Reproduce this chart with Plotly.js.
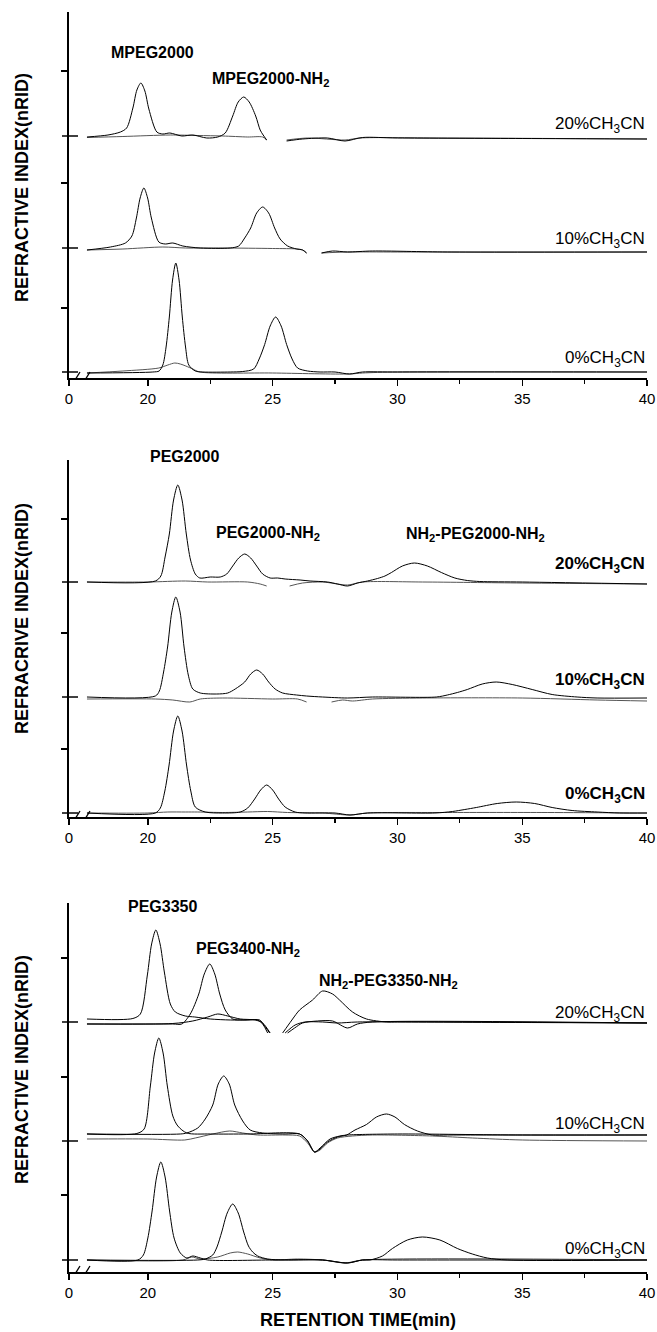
<!DOCTYPE html>
<html>
<head>
<meta charset="utf-8">
<script src="https://cdn.plot.ly/plotly-3.0.1.min.js"></script>
<style>html,body{margin:0;padding:0;background:#fff}#chart{width:657px;height:1332px}</style>
</head>
<body>
<div id="chart"></div>
<script>
// ---------------- DATA (retention time in min, signal in arbitrary nRID units) ----------------
// x axis: broken axis, "0" label sits at the left edge
const X_ZERO = 16.84;
const X_TICKS = [X_ZERO, 20, 25, 30, 35, 40];
const X_TICK_TEXT = ['0', '20', '25', '30', '35', '40'];
const X_MINOR = [22.5, 27.5, 32.5, 37.5];

// trace offsets (20%, 10%, 0% CH3CN)
const P1_OFF = [242, 130, 6];
const P2_OFF = [235, 120, 4];
const P3_OFF = [250, 131, 12];
const P1_YTICKS = [70, 195, 307];
const P2_YTICKS = [68, 184, 298];
const P3_YTICKS = [77, 195, 314];

// ---- Panel 1: MPEG2000 ----
const p1_20_a_t = [17.56,18.4,18.9,19.15,19.4,19.56,19.72,19.88,20.04,20.36,20.6,20.88,21.36,21.8,22.36,22.8,23.1,23.4,23.62,23.84,24.06,24.32,24.5,24.62,24.76,25.1,25.56,26.2,27.2,27.9,28.6,30,35,40];
const p1_20_a_v = [-1,1,4,8,28,46,53,45,27,4,2,3,0,1,-2,-1,3,20,34,39,34,20,6,1,-4,null,-5,-3,-2,-5,-1.5,-2,-2.5,-3];
const p1_20_b_t = [17.56,19,20.9,22,23,24,24.6,24.76,25.1,25.56,26.4,27.9,28.5,32,40];
const p1_20_b_v = [-1.5,-0.5,1,0.5,0,-1,-1,-4,null,-4,-2,-4,-2,-2,-3];
const p1_10_a_t = [17.56,18.5,19.1,19.36,19.54,19.69,19.84,19.99,20.14,20.44,20.7,21.0,21.4,22.1,23.3,23.64,23.88,24.12,24.36,24.6,24.84,25.08,25.3,25.6,25.96,26.2,26.36,26.6,26.96,27.4,28.0,29,32,40];
const p1_10_a_v = [-2,1,5,12,30,50,60,50,30,6,4,5,2,0,0,2,10,20,35,41,35,20,9,2,-1,-2,-5,null,-5,-3,-4,-3,-4,-4];
const p1_10_b_t = [17.56,19.0,20.6,21.5,23,25,26.0,26.2,26.36,26.6,26.96,28,30,40];
const p1_10_b_v = [-2,-1,1,0,0,-0.5,-1,-2,-5,null,-5,-4,-4,-4];
const p1_0_a_t = [17.56,20.2,20.45,20.6,20.73,20.86,20.99,21.12,21.25,21.38,21.51,21.64,21.9,22.2,23.3,23.8,24.24,24.46,24.68,24.9,25.12,25.34,25.56,25.78,26.0,26.4,26.9,27.5,28.08,28.6,30,40];
const p1_0_a_v = [-1,0,1,7,25,55,92,109,92,55,25,7,1,0,0,0.5,3,13,27.5,46,55,46,27.5,13,4,1,0,0,-2,0,0,0];
const p1_0_b_t = [17.56,19.0,20.44,20.8,21.08,21.3,21.52,21.8,22.08,25,28.08,28.6,30,40];
const p1_0_b_v = [-1,1,4,7,9,8,6,3,0,-1,-2,-1,0,0];

// ---- Panel 2: PEG2000 ----
const p2_20_a_t = [17.56,20.3,20.52,20.69,20.86,21.03,21.2,21.37,21.54,21.71,21.9,22.08,22.5,22.9,23.16,23.4,23.64,23.88,24.12,24.36,24.6,24.9,25.2,25.5,26.1,26.5,27.2,27.6,28.0,28.4,28.8,29.2,29.5,29.76,30.2,30.68,31.2,31.76,32.3,32.8,33.3,35,40];
const p2_20_a_v = [0,1,6,25,48,82,97,82,48,22,8,4,5,5,8,16,24,28,24,16,8,4,4,3,2,1,0,-2,-4,-1,1,3.5,6,9.5,16,19,16,9.5,4,1.5,0.5,0,-2];
const p2_20_b_t = [17.56,20,21.5,22.4,24.0,24.5,24.76,25.2,25.68,26.2,27,28.0,28.6,31,35,40];
const p2_20_b_v = [0,0,1,0,0,-2,-4,null,-4,-1,0,-3,0,0,-1,-2];
const p2_10_a_t = [17.56,20.3,20.46,20.63,20.79,20.96,21.12,21.29,21.45,21.62,21.8,22.1,22.76,23.2,23.5,23.88,24.12,24.36,24.6,24.84,25.1,25.4,25.96,26.36,27.0,28.0,29,31.56,32.0,32.4,32.8,33.4,33.96,34.6,35.4,36.2,37.2,38,40];
const p2_10_a_v = [0,1,6,25,50,85,100,85,50,22,8,4,3,4,8,15,23,27,23,15,8,4,2,1,0,-1,0,0,2,4.5,7.5,13,15,12.5,7.5,2.5,0,-1,-1];
const p2_10_b_t = [17.56,20.3,21.0,21.68,22.1,23,25,26.0,26.36,26.8,27.36,27.8,28.2,29,31,35,38,40];
const p2_10_b_v = [-2,-2,-3,-5,-2,-1,-2,-2,-5,null,-5,-3,-4,-2,-1,-1,-3,-4];
const p2_0_a_t = [17.56,20.3,20.5,20.68,20.85,21.03,21.2,21.37,21.55,21.72,21.9,22.3,23.0,23.7,24.0,24.28,24.52,24.76,25.0,25.24,25.5,25.9,26.3,27.5,28.1,28.8,31.5,32.2,32.7,33.16,34.0,34.76,35.5,36.2,37.0,38.0,38.9,40];
const p2_0_a_v = [0,0,5,22,48,82,97,82,48,22,6,1,0,1,5,14,23,28,23,14,6,1,0,0,-2,0,0,1.5,3.5,5.5,9.5,11,9.5,5.5,2.5,1,0,0];
const p2_0_b_t = [17.56,20,20.8,21.5,22,23,24,24.8,25.6,27,28.1,28.8,32,36,40];
const p2_0_b_v = [0,0,1,1,1,0.5,1,1.5,0.5,0,-2,0,0.5,0.5,0];

// ---- Panel 3: PEG3350 ----
const p3_20_a_t = [17.56,19.4,19.7,19.98,20.15,20.32,20.49,20.66,20.9,21.1,21.5,21.88,22.5,23.3,24.0,24.48,24.65,24.88,25.2,25.6,25.88,26.2,26.8,27.4,28.0,28.4,29,40];
const p3_20_a_v = [3,3.5,8,47,78,92,78,50,18,10,6,5,3,2,2,2,-3,-11,null,-11,-6,-1,1,1,-6,-2,0,-1];
const p3_20_b_t = [17.56,21.0,21.36,21.7,22.04,22.26,22.48,22.68,22.88,23.1,23.4,23.8,24.4,24.6,24.8,25.1,25.5,25.9,26.3,27,27.6,28.4,40];
const p3_20_b_v = [-2,-2,-2,8,28,48,58,48,28,12,3,2,2,-2,-11,null,-11,-3,0,0,-1,0,-1];
const p3_20_c_t = [17.56,21,21.8,22.4,22.8,23.2,23.7,24.3,24.6,24.9,25.1,25.4,25.6,25.8,26.08,26.6,27.0,27.4,27.68,28.2,28.76,29.56,30,35,40];
const p3_20_c_v = [-2,-1.5,1,5,8,6,3,2,-1,-11,null,-11,-4,3,12,22,31,28,22,10,3,0,0,-0.5,-1];
const p3_10_a_t = [17.56,19.56,19.85,20.1,20.27,20.44,20.61,20.78,21.0,21.2,21.56,22.5,24,26.08,26.4,26.68,26.9,27.3,27.7,28,30,35,40];
const p3_10_a_v = [7,7.5,12,55,88,103,88,55,25,15,8,7,7,7,0,-11,-7,2,5,6,7,6,6];
const p3_10_b_t = [17.56,21.3,21.56,22.0,22.3,22.6,22.82,23.04,23.26,23.48,23.8,24.1,24.6,25.5,26.08,26.4,26.68,26.9,27.2,27.6,27.96,28.3,28.76,29.16,29.56,29.9,30.28,30.8,31.4,32,35,40];
const p3_10_b_v = [7,7,8,13,22,36,57,65,57,36,20,11,8,7,7,0,-11,-8,-1,4,6,11,16.5,24,27,24,16.5,10,6,6,6,6];
const p3_10_c_t = [17.56,20,21.48,21.9,22.6,23.28,23.8,24.4,25.5,26.08,26.4,26.68,26.9,27.2,27.6,28.2,29,31.4,33,35,40];
const p3_10_c_v = [2,2,1,3,7,10,8,6,6,5,-2,-11,-9,-2,3,5,6,5,3,1,0];
const p3_0_a_t = [17.56,19.6,19.82,20.0,20.17,20.35,20.52,20.69,20.87,21.05,21.3,21.56,21.8,22.1,22.4,25,27,28.0,28.6,30,40];
const p3_0_a_v = [0,0,5,22,49,83,98,83,49,22,7,2,4,2,0,0,0,-3,0,0,0];
const p3_0_b_t = [17.56,22.0,22.3,22.6,22.77,22.96,23.18,23.4,23.62,23.84,24.03,24.2,24.4,24.8,25.5,27,28.0,28.6,28.9,29.4,29.8,30.4,31.0,31.7,32.4,33.0,33.6,34.4,40];
const p3_0_b_v = [0,0,1,5,13,28,47,56,47,28,14,8,4,1,0,0,-3,0,0,4,11.5,20,23,20,11.5,6,2,0,0];
const p3_0_c_t = [17.56,21.4,21.76,22.1,22.8,23.3,23.6,24.0,24.5,25,26,27,27.9,28.6,40];
const p3_0_c_v = [0,0,3,1,3,7,8,6,2,0,1,0,-3,0,0];

// ---------------- BUILD ----------------
const FONT = 'Liberation Sans, Arial, Helvetica, sans-serif';
const PLOT_W = 578;
const PLOT_H = 1260;

function tr(t, v, off, n, color) {
  return {
    type: 'scatter', mode: 'lines',
    x: t, y: v.map(d => d === null ? null : d + off),
    xaxis: n === 1 ? 'x' : 'x' + n, yaxis: n === 1 ? 'y' : 'y' + n,
    connectgaps: false, hoverinfo: 'skip',
    line: {color: color, width: 1, shape: 'spline', smoothing: 0.8}
  };
}
const K = '#000', G = '#555';
const data = [
  tr(p1_20_b_t, p1_20_b_v, P1_OFF[0], 1, G), tr(p1_20_a_t, p1_20_a_v, P1_OFF[0], 1, K),
  tr(p1_10_b_t, p1_10_b_v, P1_OFF[1], 1, G), tr(p1_10_a_t, p1_10_a_v, P1_OFF[1], 1, K),
  tr(p1_0_b_t, p1_0_b_v, P1_OFF[2], 1, G), tr(p1_0_a_t, p1_0_a_v, P1_OFF[2], 1, K),
  tr(p2_20_b_t, p2_20_b_v, P2_OFF[0], 2, G), tr(p2_20_a_t, p2_20_a_v, P2_OFF[0], 2, K),
  tr(p2_10_b_t, p2_10_b_v, P2_OFF[1], 2, G), tr(p2_10_a_t, p2_10_a_v, P2_OFF[1], 2, K),
  tr(p2_0_b_t, p2_0_b_v, P2_OFF[2], 2, G), tr(p2_0_a_t, p2_0_a_v, P2_OFF[2], 2, K),
  tr(p3_20_c_t, p3_20_c_v, P3_OFF[0], 3, K), tr(p3_20_b_t, p3_20_b_v, P3_OFF[0], 3, K), tr(p3_20_a_t, p3_20_a_v, P3_OFF[0], 3, K),
  tr(p3_10_c_t, p3_10_c_v, P3_OFF[1], 3, G), tr(p3_10_b_t, p3_10_b_v, P3_OFF[1], 3, K), tr(p3_10_a_t, p3_10_a_v, P3_OFF[1], 3, K),
  tr(p3_0_c_t, p3_0_c_v, P3_OFF[2], 3, G), tr(p3_0_b_t, p3_0_b_v, P3_OFF[2], 3, K), tr(p3_0_a_t, p3_0_a_v, P3_OFF[2], 3, K)
];

function axX(anchor) {
  return {
    anchor: anchor, domain: [0, 1], range: [X_ZERO, 40],
    tickmode: 'array', tickvals: X_TICKS, ticktext: X_TICK_TEXT,
    ticks: 'outside', ticklen: 6, tickwidth: 1.3, tickcolor: '#000',
    showline: true, linecolor: '#000', linewidth: 1.6,
    showgrid: false, zeroline: false, fixedrange: true,
    tickfont: {family: FONT, size: 15, color: '#000'},
    minor: {tickmode: 'array', tickvals: X_MINOR, ticks: 'outside', ticklen: 4, tickwidth: 1.2, tickcolor: '#000', showgrid: false}
  };
}
function axY(anchor, domain, range, ticks) {
  return {
    anchor: anchor, domain: domain, range: range,
    tickmode: 'array', tickvals: ticks, showticklabels: false,
    ticks: 'outside', ticklen: 6, tickwidth: 1.3, tickcolor: '#000',
    showline: true, linecolor: '#000', linewidth: 1.6,
    showgrid: false, zeroline: false, fixedrange: true
  };
}

const shapes = [];
const panels = [
  {ya: 'y', xa: 'x', off: P1_OFF},
  {ya: 'y2', xa: 'x2', off: P2_OFF},
  {ya: 'y3', xa: 'x3', off: P3_OFF}
];
panels.forEach(p => {
  // baseline markers crossing the y axis
  p.off.forEach(o => shapes.push({type: 'line', xref: 'paper', yref: p.ya, x0: -7 / PLOT_W, x1: 9 / PLOT_W, y0: o, y1: o, line: {color: '#000', width: 1.5}, layer: 'above'}));
  // axis break
  shapes.push({type: 'rect', xref: p.xa, yref: p.ya, ysizemode: 'pixel', yanchor: 0, x0: 17.2, x1: 17.44, y0: -3, y1: 3, fillcolor: '#fff', line: {width: 0}, layer: 'above'});
  shapes.push({type: 'line', xref: p.xa, yref: p.ya, ysizemode: 'pixel', yanchor: 0, x0: 16.96, x1: 17.28, y0: -7, y1: 6, line: {color: '#000', width: 1.3}, layer: 'above'});
  shapes.push({type: 'line', xref: p.xa, yref: p.ya, ysizemode: 'pixel', yanchor: 0, x0: 17.36, x1: 17.68, y0: -7, y1: 6, line: {color: '#000', width: 1.3}, layer: 'above'});
});

function ann(xa, ya, x, y, text, size, opts) {
  return Object.assign({xref: xa, yref: ya, x: x, y: y, text: text, showarrow: false,
    font: {family: FONT, size: size, color: '#000'}, xanchor: 'center', yanchor: 'middle'}, opts || {});
}
const annotations = [
  // peak labels
  ann('x', 'y', 20.2, 326, '<b>MPEG2000</b>', 16),
  ann('x', 'y', 24.92, 299, '<b>MPEG2000-NH<sub>2</sub></b>', 16),
  ann('x2', 'paper', 21.48, (1272 - 457) / PLOT_H, '<b>PEG2000</b>', 16),
  ann('x2', 'y2', 24.8, 284, '<b>PEG2000-NH<sub>2</sub></b>', 16),
  ann('x2', 'y2', 33.12, 283, '<b>NH<sub>2</sub>-PEG2000-NH<sub>2</sub></b>', 16),
  ann('x3', 'y3', 20.6, 365, '<b>PEG3350</b>', 16),
  ann('x3', 'y3', 24.0, 322, '<b>PEG3400-NH<sub>2</sub></b>', 16),
  ann('x3', 'y3', 29.64, 290, '<b>NH<sub>2</sub>-PEG3350-NH<sub>2</sub></b>', 16),
  // condition labels
  ann('x', 'y', 40, 253, '20%CH<sub>3</sub>CN', 17, {xanchor: 'right'}),
  ann('x', 'y', 40, 138, '10%CH<sub>3</sub>CN', 17, {xanchor: 'right'}),
  ann('x', 'y', 40, 19, '0%CH<sub>3</sub>CN', 17, {xanchor: 'right'}),
  ann('x2', 'y2', 40, 252, '<b>20%CH<sub>3</sub>CN</b>', 17, {xanchor: 'right'}),
  ann('x2', 'y2', 40, 136, '<b>10%CH<sub>3</sub>CN</b>', 17, {xanchor: 'right'}),
  ann('x2', 'y2', 40, 22, '<b>0%CH<sub>3</sub>CN</b>', 17, {xanchor: 'right'}),
  ann('x3', 'y3', 40, 258, '20%CH<sub>3</sub>CN', 17, {xanchor: 'right'}),
  ann('x3', 'y3', 40, 147, '10%CH<sub>3</sub>CN', 17, {xanchor: 'right'}),
  ann('x3', 'y3', 40, 22, '0%CH<sub>3</sub>CN', 17, {xanchor: 'right'}),
  // axis titles
  ann('paper', 'y', -47 / PLOT_W, 190, '<b>REFRACTIVE INDEX(nRID)</b>', 18, {textangle: -90}),
  ann('paper', 'y2', -47 / PLOT_W, 198, '<b>REFRACRIVE INDEX(nRID)</b>', 18, {textangle: -90}),
  ann('paper', 'y3', -47 / PLOT_W, 202, '<b>REFRACTIVE INDEX(nRID)</b>', 18, {textangle: -90}),
  ann('paper', 'paper', 0.5, -48 / PLOT_H, '<b>RETENTION TIME(min)</b>', 18)
];

const layout = {
  width: 657, height: 1332,
  margin: {l: 69, r: 10, t: 12, b: 60, pad: 0},
  paper_bgcolor: '#fff', plot_bgcolor: '#fff',
  showlegend: false,
  font: {family: FONT, color: '#000'},
  xaxis: axX('y'), xaxis2: axX('y2'), xaxis3: axX('y3'),
  yaxis: axY('x', [0.70952, 1], [0, 366], P1_YTICKS),
  yaxis2: axY('x2', [0.36111, 0.64444], [0, 357], P2_YTICKS),
  yaxis3: axY('x3', [0, 0.29286], [0, 369], P3_YTICKS),
  shapes: shapes,
  annotations: annotations
};

Plotly.newPlot('chart', data, layout, {displayModeBar: false, staticPlot: true});
</script>
</body>
</html>
